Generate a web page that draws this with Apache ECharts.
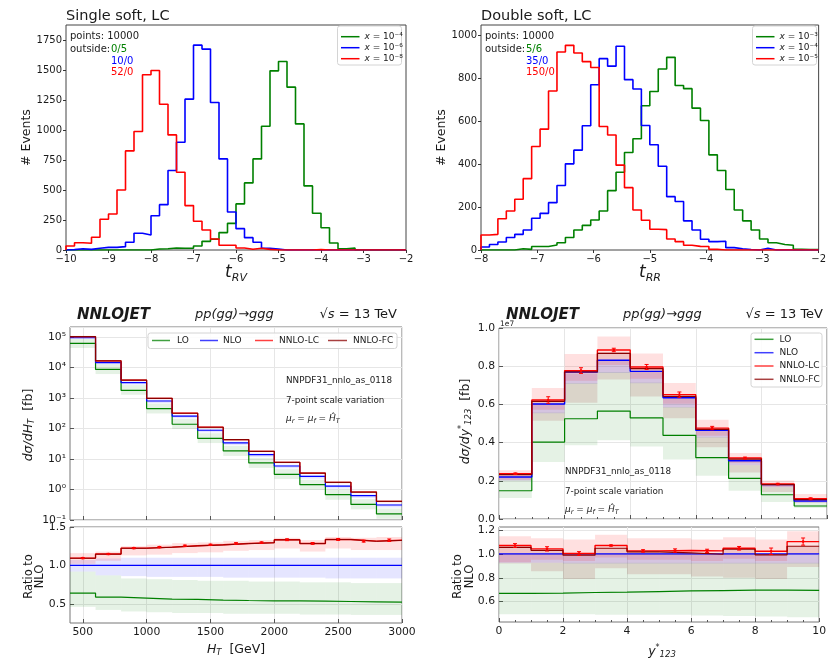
<!DOCTYPE html>
<html>
<head>
<meta charset="utf-8">
<script src="https://cdn.jsdelivr.net/npm/echarts@6.0.0/dist/echarts.min.js"></script>
<style>
html,body{margin:0;padding:0;background:#ffffff;}
#chart{width:829px;height:661px;}
</style>
</head>
<body>
<div id="chart"></div>
<script>
// ================= DATA =================
// --- Top-left: Single soft, LC (40 bins, width 0.2, from -10) ---
const tlBinStart = -10;
const tlBinWidth = 0.2;
const tlGreen = [0,0,0,0,0,0,0,0,0,0, 8,11,17,14,14,33,72,89,145,222,384,559,759,1031,1493,1571,1357,1051,534,306,186,58,11,17, 0,0,0,0,0,0];
const tlBlue  = [3,10,5,15,22,22,28,64,139,125,286,378,662,898,1257,1707,1674,1229,759,317,178,103,64,14,8, 0,0,0,0,0,0,0,0,0,0,0,0,0,0,0];
const tlRed   = [33,61,56,106,256,300,500,826,987,1460,1496,1215,959,648,370,239,167,92,40,40,17,6,14,5, 0,0,0,0,0,3, 0,0,0,0,0,0,0,0,0,0];
const tlXTicks = [-10,-9,-8,-7,-6,-5,-4,-3,-2];
const tlYTicks = [0,250,500,750,1000,1250,1500,1750];

// --- Top-right: Double soft, LC (40 bins, width 0.15, from -8) ---
const trBinStart = -8;
const trBinWidth = 0.15;
const trGreen = [0,0,0,0, 6,3,16,16,23,34,58,93,115,140,182,277,363,455,519,673,740,845,899,768,753,662,604,444,371,282,187,136,93,51,34,26,22,3,2,2];
const trBlue  = [14,26,37,58,73,93,148,171,221,301,402,466,580,771,893,858,951,795,751,581,491,391,249,226,136,93,50,39,41,11,6,2,0,8, 0,0,0,0,0,0];
const trRed   = [70,73,146,182,237,333,483,564,742,924,955,919,879,852,576,537,396,291,187,139,97,95,51,39,22,17,16,3, 0,0,0,0,0,0,0,0,0,0,0,0];
const trXTicks = [-8,-7,-6,-5,-4,-3,-2];
const trYTicks = [0,200,400,600,800,1000];

// --- Bottom-left: dsigma/dH_T [fb] ---
const blEdges = [400,600,800,1000,1200,1400,1600,1800,2000,2200,2400,2600,2800,3000];
const blLO  = [62000,8700,1780,452,138,47.5,18.4,7.45,3.15,1.44,0.675,0.325,0.158];
const blNLO = [95000,14600,3200,800,255,88,34,13.9,5.9,2.7,1.29,0.63,0.31];
const blLC  = [103500,16600,3900,985,319,111,43.5,17.9,7.8,3.46,1.72,0.83,0.41];
const blFC  = [103000,16500,3880,980,317,110,43.2,17.8,7.75,3.44,1.71,0.825,0.408];
const blBandLOlo   = [43700,6130,1280,312,97,33.4,12.6,5.1,2.2,0.97,0.46,0.224,0.11];
const blBandLOhi   = [87400,12700,2660,656,207,70,27.2,11,4.66,2.1,1.0,0.485,0.239];
const blBandNLOlo  = [88350,12700,2750,680,217,74.8,28.6,11.7,4.96,2.27,1.07,0.523,0.257];
const blBandNLOhi  = [101650,15900,3520,880,280,96.8,37.4,15.3,6.49,2.97,1.42,0.693,0.341];
const blBandNNLOlo = [96900,15480,3616,912,296,103,40.5,16.7,7.2,3.19,1.57,0.756,0.372];
const blBandNNLOhi = [110200,17230,4000,1016,329,114,44.9,18.5,8.0,3.6,1.77,0.857,0.425];
const blRatioLO  = [0.639,0.587,0.574,0.561,0.557,0.548,0.543,0.539,0.539,0.535,0.530,0.526,0.522];
const blRatioNLO = [1,1,1,1,1,1,1,1,1,1,1,1,1];
const blRatioLC  = [1.095,1.148,1.225,1.238,1.256,1.268,1.286,1.296,1.334,1.286,1.338,1.316,1.328];
const blRatioFC  = [1.093,1.146,1.223,1.236,1.254,1.266,1.284,1.294,1.332,1.284,1.336,1.314,1.326];
const blRatioErr = [0.008,0.008,0.008,0.008,0.008,0.008,0.01,0.01,0.012,0.012,0.012,0.012,0.016];
const blRBandLOlo   = [0.46,0.42,0.40,0.39,0.38,0.38,0.37,0.37,0.37,0.36,0.36,0.355,0.355];
const blRBandLOhi   = [0.92,0.87,0.83,0.82,0.81,0.80,0.80,0.79,0.79,0.78,0.78,0.77,0.77];
const blRBandNLOlo  = [0.92,0.87,0.86,0.85,0.85,0.85,0.84,0.84,0.84,0.84,0.83,0.83,0.83];
const blRBandNLOhi  = [1.07,1.09,1.10,1.10,1.10,1.10,1.10,1.10,1.10,1.10,1.10,1.10,1.10];
const blRBandNNLOlo = [1.02,1.06,1.13,1.14,1.16,1.17,1.19,1.20,1.22,1.18,1.22,1.20,1.20];
const blRBandNNLOhi = [1.16,1.18,1.25,1.27,1.29,1.30,1.32,1.33,1.36,1.33,1.37,1.36,1.37];
const blXTicks = [500,1000,1500,2000,2500,3000];
const blRatioYTicks = [0.5,1.0,1.5];

// --- Bottom-right: dsigma/dy*_123 [fb] ---
const brEdges = [0,1,2,3,4,5,6,7,8,9,10];
const brLO  = [1.48e6,4.03e6,5.25e6,5.65e6,5.29e6,4.38e6,3.21e6,2.13e6,1.27e6,0.68e6];
const brNLO = [2.20e6,6.02e6,7.70e6,8.31e6,7.73e6,6.35e6,4.64e6,3.05e6,1.80e6,0.94e6];
const brLC  = [2.37e6,6.23e6,7.77e6,8.85e6,7.96e6,6.51e6,4.76e6,3.19e6,1.83e6,1.06e6];
const brFC  = [2.32e6,6.16e6,7.70e6,8.67e6,7.87e6,6.42e6,4.69e6,3.14e6,1.80e6,1.01e6];
const brErr = [0.04e6,0.17e6,0.15e6,0.09e6,0.13e6,0.14e6,0.09e6,0.05e6,0.04e6,0.05e6];
const brBandLOlo  = [1.10e6,2.98e6,3.86e6,4.12e6,3.80e6,3.12e6,2.27e6,1.48e6,0.89e6,0.58e6];
const brBandLOhi  = [2.04e6,5.57e6,7.12e6,7.69e6,7.15e6,5.87e6,4.29e6,2.82e6,1.66e6,0.87e6];
const brBandNLOlo = [2.02e6,5.54e6,7.08e6,7.65e6,7.11e6,5.84e6,4.27e6,2.81e6,1.66e6,0.86e6];
const brBandNLOhi = [2.20e6,6.02e6,7.70e6,8.31e6,7.73e6,6.35e6,4.64e6,3.05e6,1.80e6,0.94e6];
const brBandLClo  = [2.05e6,5.72e6,7.24e6,8.06e6,7.34e6,6.03e6,4.36e6,2.93e6,1.69e6,0.94e6];
const brBandLChi  = [2.55e6,6.86e6,8.64e6,9.56e6,8.66e6,7.12e6,5.20e6,3.46e6,2.02e6,1.31e6];
const brBandFClo  = [2.02e6,5.15e6,6.08e6,7.31e6,6.42e6,5.27e6,3.76e6,2.44e6,1.42e6,0.84e6];
const brBandFChi  = [2.33e6,6.20e6,7.62e6,8.73e6,7.88e6,6.41e6,4.64e6,3.17e6,1.78e6,1.00e6];
const brRatioLO  = [0.670,0.672,0.677,0.680,0.685,0.690,0.693,0.696,0.697,0.694];
const brRatioNLO = [1,1,1,1,1,1,1,1,1,1];
const brRatioLC  = [1.070,1.042,1.003,1.070,1.025,1.028,1.025,1.047,1.022,1.103];
const brRatioFC  = [1.055,1.030,0.989,1.047,1.017,1.008,0.997,1.039,0.992,1.064];
const brRatioErr = [0.016,0.018,0.016,0.005,0.010,0.014,0.014,0.015,0.027,0.030];
const brRBandLOlo  = [0.495,0.495,0.495,0.49,0.49,0.49,0.485,0.48,0.475,0.47];
const brRBandLOhi  = [0.925,0.925,0.925,0.925,0.925,0.925,0.925,0.925,0.925,0.925];
const brRBandNLOlo = [0.925,0.925,0.92,0.92,0.92,0.92,0.92,0.92,0.92,0.92];
const brRBandNLOhi = [1.0,1.0,1.0,1.0,1.0,1.0,1.0,1.0,1.0,1.0];
const brRBandLClo  = [0.93,0.95,0.94,0.97,0.95,0.95,0.94,0.96,0.94,1.0];
const brRBandLChi  = [1.147,1.13,1.12,1.16,1.13,1.13,1.12,1.14,1.12,1.19];
const brRBandFClo  = [0.92,0.855,0.79,0.88,0.83,0.83,0.81,0.80,0.79,0.89];
const brRBandFChi  = [1.06,1.03,0.99,1.05,1.02,1.01,1.0,1.04,0.99,1.06];
const brXTicks = [0,2,4,6,8,10];
const brYTicks = [0,2e6,4e6,6e6,8e6,1e7];
const brRatioYTicks = [0.6,0.8,1.0,1.2];

// ================= HELPERS =================
const FONT = 'DejaVu Sans';
const TXT = '#1a1a1a';
const GREEN = '#008000', BLUE = '#0000ff', RED = '#ff0000', DRED = '#8b0000';
const GRIDC = '#e6e6e6';

function histPoints(start, width, vals) {
  const pts = [[start, 0]];
  vals.forEach((v, i) => pts.push([start + i * width, v]));
  pts.push([start + vals.length * width, vals[vals.length - 1]]);
  pts.push([start + vals.length * width, 0]);
  return pts;
}
function stepPoints(edges, vals) {
  const pts = vals.map((v, i) => [edges[i], v]);
  pts.push([edges[edges.length - 1], vals[vals.length - 1]]);
  return pts;
}
function lineS(xi, yi, data, color, width, z) {
  return {type: 'line', xAxisIndex: xi, yAxisIndex: yi, data: data, step: 'end',
    symbol: 'none', showSymbol: false, silent: true, clip: true, z: z || 3,
    lineStyle: {color: color, width: width}, itemStyle: {color: color}};
}
function bandS(xi, yi, edges, lo, hi, color, op) {
  return {type: 'custom', xAxisIndex: xi, yAxisIndex: yi, silent: true, clip: true, z: 1,
    data: lo.map((l, i) => [edges[i], edges[i + 1], l, hi[i]]),
    encode: {x: [0, 1], y: [2, 3]},
    renderItem: function (p, api) {
      const a = api.coord([api.value(0), api.value(3)]);
      const b = api.coord([api.value(1), api.value(2)]);
      return {type: 'rect', shape: {x: a[0], y: a[1], width: b[0] - a[0], height: b[1] - a[1]},
        style: {fill: color, opacity: op}};
    }};
}
function errS(xi, yi, edges, vals, errs, color) {
  return {type: 'custom', xAxisIndex: xi, yAxisIndex: yi, silent: true, clip: true, z: 5,
    data: vals.map((v, i) => [(edges[i] + edges[i + 1]) / 2, v, errs[i]]),
    encode: {x: 0, y: 1},
    renderItem: function (p, api) {
      const x = api.value(0), y = api.value(1), e = api.value(2);
      const t = api.coord([x, y + e]), b = api.coord([x, y - e]), c = api.coord([x, y]);
      const st = {stroke: color, lineWidth: 1};
      return {type: 'group', children: [
        {type: 'line', shape: {x1: t[0], y1: t[1], x2: b[0], y2: b[1]}, style: st},
        {type: 'line', shape: {x1: t[0] - 2, y1: t[1], x2: t[0] + 2, y2: t[1]}, style: st},
        {type: 'line', shape: {x1: b[0] - 2, y1: b[1], x2: b[0] + 2, y2: b[1]}, style: st},
        {type: 'circle', shape: {cx: c[0], cy: c[1], r: 1.3}, style: {fill: color}}
      ]};
    }};
}
const minusFmt = v => String(v).replace('-', '\u2212');
const plainFmt = v => String(v);
const SUP = {'-': '\u207b', '0': '\u2070', '1': '\u00b9', '2': '\u00b2', '3': '\u00b3', '4': '\u2074', '5': '\u2075', '6': '\u2076', '7': '\u2077', '8': '\u2078', '9': '\u2079'};
const supStr = n => String(n).split('').map(c => SUP[c]).join('');
const logFmt = v => '10' + supStr(Math.round(Math.log10(v)));

function topX(g, min, max, ticks) {
  return {gridIndex: g, type: 'value', min: min, max: max,
    axisLine: {show: false}, splitLine: {show: false},
    axisTick: {show: true, inside: false, length: 3, customValues: ticks, lineStyle: {color: '#333'}},
    axisLabel: {customValues: ticks, fontSize: 10, color: TXT, fontFamily: FONT, margin: 4, formatter: minusFmt}};
}
function topY(g, max, ticks) {
  return {gridIndex: g, type: 'value', min: 0, max: max,
    axisLine: {show: false}, splitLine: {show: false},
    axisTick: {show: true, inside: false, length: 3, customValues: ticks, lineStyle: {color: '#333'}},
    axisLabel: {customValues: ticks, fontSize: 10, color: TXT, fontFamily: FONT, margin: 4, formatter: plainFmt}};
}
function botX(g, min, max, ticks, showLabel, extra) {
  return Object.assign({gridIndex: g, type: 'value', min: min, max: max,
    axisLine: {show: false},
    splitLine: {show: true, lineStyle: {color: GRIDC, width: 1}},
    axisTick: {show: true, inside: true, length: 4, customValues: ticks, lineStyle: {color: '#555'}},
    axisLabel: {show: showLabel, customValues: ticks, fontSize: 10.8, color: TXT, fontFamily: FONT, margin: 4, formatter: plainFmt}}, extra || {});
}
function botY(g, min, max, ticks, fmt) {
  return {gridIndex: g, type: 'value', min: min, max: max,
    axisLine: {show: false},
    splitLine: {show: true, lineStyle: {color: GRIDC, width: 1}},
    axisTick: {show: true, inside: true, length: 4, customValues: ticks, lineStyle: {color: '#555'}},
    axisLabel: {customValues: ticks, fontSize: 10.8, color: TXT, fontFamily: FONT, margin: 4, formatter: fmt}};
}

// ---------- graphic helpers ----------
function txt(x, y, text, st, extra) {
  return Object.assign({type: 'text', x: x, y: y, silent: true, z: 100,
    style: Object.assign({text: text, fill: TXT, fontFamily: FONT, fontSize: 10, align: 'left', verticalAlign: 'middle'}, st || {})}, extra || {});
}
function hline(x1, x2, y, color, w, op) {
  return {type: 'line', silent: true, z: 101, shape: {x1: x1, y1: y, x2: x2, y2: y},
    style: {stroke: color, lineWidth: w || 1.5, opacity: op == null ? 1 : op}};
}
function box(x, y, w, h) {
  return {type: 'rect', silent: true, z: 99, shape: {x: x, y: y, width: w, height: h, r: 2.5},
    style: {fill: 'rgba(255,255,255,0.85)', stroke: '#d4d4d4', lineWidth: 1}};
}
const R = (size, extra) => Object.assign({fontSize: size, fontFamily: FONT, fill: TXT}, extra || {});

const graphics = [];
// Titles
graphics.push(txt(66, 16, 'Single soft, LC', {fontSize: 14.5}));
graphics.push(txt(481, 16, 'Double soft, LC', {fontSize: 14.5}));
// Info texts top-left
graphics.push(txt(70, 36, 'points: 10000'));
graphics.push(txt(70, 49.5, 'outside:'));
graphics.push(txt(111, 49.5, '0/5', {fill: GREEN}));
graphics.push(txt(111, 61, '10/0', {fill: BLUE}));
graphics.push(txt(111, 72.5, '52/0', {fill: RED}));
// Info texts top-right
graphics.push(txt(485, 36, 'points: 10000'));
graphics.push(txt(485, 49.5, 'outside:'));
graphics.push(txt(526, 49.5, '5/6', {fill: GREEN}));
graphics.push(txt(526, 61, '35/0', {fill: BLUE}));
graphics.push(txt(526, 72.5, '150/0', {fill: RED}));
// Legends top
function topLegend(x0, labels) {
  graphics.push(box(x0, 26, 64, 39));
  const cols = [GREEN, BLUE, RED];
  [36.7, 47.7, 58.7].forEach((y, i) => {
    graphics.push(hline(x0 + 3.5, x0 + 22, y, cols[i], 1.5));
    graphics.push(txt(x0 + 27, y, '{i|x}{n| = 10' + labels[i] + '}',
      {rich: {i: R(9, {fontStyle: 'italic'}), n: R(9)}}));
  });
}
topLegend(337.5, [supStr(-4), supStr(-6), supStr(-8)]);
topLegend(752.5, [supStr(-3), supStr(-4), supStr(-5)]);
// axis titles top
graphics.push(txt(27, 137.5, '# Events', {fontSize: 12.5, align: 'center'}, {rotation: Math.PI / 2}));
graphics.push(txt(442, 137.5, '# Events', {fontSize: 12.5, align: 'center'}, {rotation: Math.PI / 2}));
const subRich = (big, small, lh) => ({m: R(big, {fontStyle: 'italic', lineHeight: big + lh}), s: R(small, {fontStyle: 'italic', lineHeight: small, verticalAlign: 'bottom'}), n: R(big, {lineHeight: big + lh})});
graphics.push(txt(236, 273, '{m|t}{s|RV}', {align: 'center', rich: subRich(17, 11, 3.5)}));
graphics.push(txt(650, 273, '{m|t}{s|RR}', {align: 'center', rich: subRich(17, 11, 3.5)}));

// Bottom titles
function botTitles(x1, x2, x3r) {
  graphics.push(txt(x1, 315, 'NNLOJET', {fontSize: 15, fontWeight: 'bold', fontStyle: 'italic'}));
  graphics.push(txt(x2, 315, 'pp(gg)\u2192ggg', {fontSize: 13, fontStyle: 'italic'}));
  graphics.push(txt(x3r, 315, '{n|\u221a}{i|s}{n| = 13 TeV}', {align: 'right', rich: {n: R(13), i: R(13, {fontStyle: 'italic'})}}));
}
botTitles(77, 195, 397);
botTitles(506, 623, 823);
// Annotations
function annot(x, y0) {
  graphics.push(txt(x, y0, 'NNPDF31_nnlo_as_0118', {fontSize: 8.8}));
  graphics.push(txt(x, y0 + 19.5, '7-point scale variation', {fontSize: 8.8}));
  graphics.push(txt(x, y0 + 38, '{i|\u03bc}{s|r}{n| = }{i|\u03bc}{s|f}{n| = }{i|\u0124}{s|T}',
    {rich: {i: R(9, {fontStyle: 'italic', lineHeight: 12}), n: R(9, {lineHeight: 12}), s: R(6.5, {fontStyle: 'italic', lineHeight: 6.5, verticalAlign: 'bottom'})}}));
}
annot(286, 381);
annot(565, 472);
// Bottom-left legend
graphics.push(box(148, 333, 249, 15.5));
[[152, 170, 177, 'LO', GREEN], [200, 218, 223, 'NLO', BLUE], [255, 273, 279, 'NNLO-LC', RED], [328, 347, 353, 'NNLO-FC', DRED]].forEach(a => {
  graphics.push(hline(a[0], a[1], 340.5, a[4], 1.5, 0.75));
  graphics.push(txt(a[2], 340.5, a[3], {fontSize: 9}));
});
// Bottom-right legend
graphics.push(box(751, 333, 71, 54));
[[339.3, 'LO', GREEN], [352.7, 'NLO', BLUE], [366, 'NNLO-LC', RED], [379.3, 'NNLO-FC', DRED]].forEach(a => {
  graphics.push(hline(754.5, 773.5, a[0], a[2], 1.5, 0.75));
  graphics.push(txt(779.5, a[0], a[1], {fontSize: 9}));
});
// Bottom axis titles
graphics.push(txt(28.5, 425, '{m|d\u03c3/dH}{s|T}{n|  [fb]}', {align: 'center', rich: subRich(12.5, 8.5, 3)}, {rotation: Math.PI / 2}));
graphics.push(txt(29, 576.5, 'Ratio to', {fontSize: 11.5, align: 'center'}, {rotation: Math.PI / 2}));
graphics.push(txt(40, 576.5, 'NLO', {fontSize: 11.5, align: 'center'}, {rotation: Math.PI / 2}));
graphics.push(txt(236, 650, '{m|H}{s|T}{n|  [GeV]}', {align: 'center', rich: subRich(12.5, 8.5, 3)}));
graphics.push(txt(466, 421.5, '{m|d\u03c3/dy}{u|*}{s|123}{n|  [fb]}', {align: 'center',
  rich: Object.assign(subRich(12.5, 8.5, 3), {u: R(8, {lineHeight: 8, verticalAlign: 'top'})})}, {rotation: Math.PI / 2}));
graphics.push(txt(458, 576.5, 'Ratio to', {fontSize: 11.5, align: 'center'}, {rotation: Math.PI / 2}));
graphics.push(txt(470.5, 576.5, 'NLO', {fontSize: 11.5, align: 'center'}, {rotation: Math.PI / 2}));
graphics.push(txt(662, 652, '{m|y}{u|*}{s|123}', {align: 'center',
  rich: Object.assign(subRich(12.5, 8.5, 3), {u: R(8, {lineHeight: 8, verticalAlign: 'top'})})}));
graphics.push(txt(500, 324, '1e7', {fontSize: 7.5}));

// ================= OPTION =================
const gridStyle = (c) => ({show: true, borderColor: c, borderWidth: 1, backgroundColor: 'transparent', containLabel: false});
const option = {
  animation: false,
  backgroundColor: '#ffffff',
  grid: [
    Object.assign({left: 66, top: 25, width: 340, height: 225}, gridStyle('#444')),
    Object.assign({left: 481, top: 25, width: 340, height: 225}, gridStyle('#444')),
    Object.assign({left: 70, top: 327, width: 332, height: 193}, gridStyle('#777')),
    Object.assign({left: 70, top: 527, width: 332, height: 96}, gridStyle('#777')),
    Object.assign({left: 499, top: 328, width: 328, height: 191}, gridStyle('#777')),
    Object.assign({left: 499, top: 527, width: 328, height: 95}, gridStyle('#777'))
  ],
  xAxis: [
    topX(0, -10, -2, tlXTicks),
    topX(1, -8, -2, trXTicks),
    botX(2, 400, 3000, blXTicks, false),
    botX(3, 400, 3000, blXTicks, true),
    botX(4, 0, 10, brXTicks, false, {interval: 2, minorTick: {show: true, splitNumber: 4, length: 2, lineStyle: {color: '#555'}}}),
    botX(5, 0, 10, brXTicks, true, {interval: 2, minorTick: {show: true, splitNumber: 4, length: 2, lineStyle: {color: '#555'}}})
  ],
  yAxis: [
    topY(0, 1875, tlYTicks),
    topY(1, 1050, trYTicks),
    {gridIndex: 2, type: 'log', logBase: 10, min: 0.1, max: 2.14e5,
      axisLine: {show: false},
      splitLine: {show: true, lineStyle: {color: GRIDC, width: 1}},
      axisTick: {show: true, inside: true, length: 4, lineStyle: {color: '#555'}},
      axisLabel: {fontSize: 10.8, color: TXT, fontFamily: FONT, margin: 4, showMaxLabel: false, formatter: logFmt}},
    botY(3, 0.25, 1.5, blRatioYTicks, v => v.toFixed(1)),
    botY(4, 0, 1e7, brYTicks, v => (v / 1e7).toFixed(1)),
    botY(5, 0.43, 1.225, brRatioYTicks, v => v.toFixed(1))
  ],
  series: [
    // top-left
    lineS(0, 0, histPoints(tlBinStart, tlBinWidth, tlGreen), GREEN, 1.6),
    lineS(0, 0, histPoints(tlBinStart, tlBinWidth, tlBlue), BLUE, 1.6),
    lineS(0, 0, histPoints(tlBinStart, tlBinWidth, tlRed), RED, 1.6),
    // top-right
    lineS(1, 1, histPoints(trBinStart, trBinWidth, trGreen), GREEN, 1.6),
    lineS(1, 1, histPoints(trBinStart, trBinWidth, trBlue), BLUE, 1.6),
    lineS(1, 1, histPoints(trBinStart, trBinWidth, trRed), RED, 1.6),
    // bottom-left main
    bandS(2, 2, blEdges, blBandLOlo, blBandLOhi, GREEN, 0.1),
    bandS(2, 2, blEdges, blBandNLOlo, blBandNLOhi, BLUE, 0.1),
    bandS(2, 2, blEdges, blBandNNLOlo, blBandNNLOhi, RED, 0.12),
    lineS(2, 2, stepPoints(blEdges, blLO), GREEN, 1.2),
    lineS(2, 2, stepPoints(blEdges, blNLO), BLUE, 1.2),
    lineS(2, 2, stepPoints(blEdges, blLC), RED, 1.2),
    lineS(2, 2, stepPoints(blEdges, blFC), DRED, 1.2),
    // bottom-left ratio
    bandS(3, 3, blEdges, blRBandLOlo, blRBandLOhi, GREEN, 0.1),
    bandS(3, 3, blEdges, blRBandNLOlo, blRBandNLOhi, BLUE, 0.1),
    bandS(3, 3, blEdges, blRBandNNLOlo, blRBandNNLOhi, RED, 0.12),
    lineS(3, 3, stepPoints(blEdges, blRatioLO), GREEN, 1.2),
    lineS(3, 3, stepPoints(blEdges, blRatioNLO), BLUE, 1.2),
    lineS(3, 3, stepPoints(blEdges, blRatioLC), RED, 1.4),
    lineS(3, 3, stepPoints(blEdges, blRatioFC), DRED, 1.0),
    errS(3, 3, blEdges, blRatioLC, blRatioErr, RED),
    // bottom-right main
    bandS(4, 4, brEdges, brBandLOlo, brBandLOhi, GREEN, 0.1),
    bandS(4, 4, brEdges, brBandNLOlo, brBandNLOhi, BLUE, 0.12),
    bandS(4, 4, brEdges, brBandLClo, brBandLChi, RED, 0.12),
    bandS(4, 4, brEdges, brBandFClo, brBandFChi, DRED, 0.12),
    lineS(4, 4, stepPoints(brEdges, brLO), GREEN, 1.2),
    lineS(4, 4, stepPoints(brEdges, brNLO), BLUE, 1.4),
    lineS(4, 4, stepPoints(brEdges, brLC), RED, 1.4),
    lineS(4, 4, stepPoints(brEdges, brFC), DRED, 1.2),
    errS(4, 4, brEdges, brLC, brErr, RED),
    // bottom-right ratio
    bandS(5, 5, brEdges, brRBandLOlo, brRBandLOhi, GREEN, 0.1),
    bandS(5, 5, brEdges, brRBandNLOlo, brRBandNLOhi, BLUE, 0.12),
    bandS(5, 5, brEdges, brRBandLClo, brRBandLChi, RED, 0.12),
    bandS(5, 5, brEdges, brRBandFClo, brRBandFChi, DRED, 0.12),
    lineS(5, 5, stepPoints(brEdges, brRatioLO), GREEN, 1.2),
    lineS(5, 5, stepPoints(brEdges, brRatioNLO), BLUE, 1.4),
    lineS(5, 5, stepPoints(brEdges, brRatioLC), RED, 1.4),
    lineS(5, 5, stepPoints(brEdges, brRatioFC), DRED, 1.2),
    errS(5, 5, brEdges, brRatioLC, brRatioErr, RED)
  ],
  graphic: {elements: graphics}
};
const chart = echarts.init(document.getElementById('chart'), null, {renderer: 'canvas'});
chart.setOption(option);
</script>
</body>
</html>
